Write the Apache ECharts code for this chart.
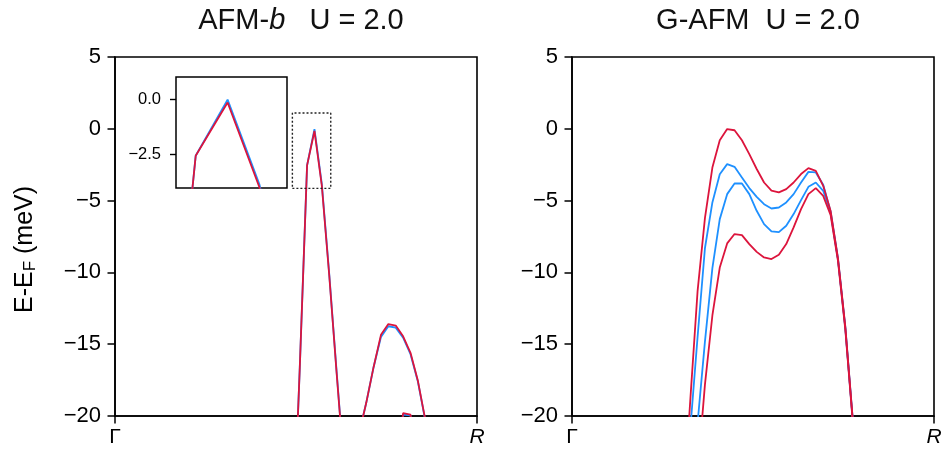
<!DOCTYPE html>
<html><head><meta charset="utf-8">
<script src="https://cdn.jsdelivr.net/npm/echarts@6/dist/echarts.min.js"></script>
<style>html,body{margin:0;padding:0;background:#fff}#c{width:945px;height:454px}</style>
</head><body><div id="c"></div>
<script>
// k-path positions (Γ = 0, R = 1), sample points 15..42 of 50
const kPoints = [0.3061,0.3265,0.3469,0.3673,0.3878,0.4082,0.4286,0.4490,0.4694,0.4898,
                 0.5102,0.5306,0.5510,0.5714,0.5918,0.6122,0.6327,0.6531,0.6735,0.6939,
                 0.7143,0.7347,0.7551,0.7755,0.7959,0.8163,0.8367,0.8571];
const yTickValues = [5,0,-5,-10,-15,-20];
const xTickValues = [0,1];
const xTickLabels = ['Γ','R'];
const insetTickValues = [0,-2.5];
const titles = ['AFM-b', 'G-AFM'];
const uLabel = 'U = 2.0';

// AFM-b panel (meV)
const afmBlueBand1 = [null,null,null,null,null,null,null,null,null,-30,
                      -16.8,-2.55,-0.02,-3.85,-10.1,-16.9,-23.5,null,-21.3,-19.1,
                      -16.6,-14.5,-13.75,-13.85,-14.55,-15.7,-17.6,-20.3];
const afmRedBand1  = [null,null,null,null,null,null,null,null,null,-30,
                      -16.8,-2.55,-0.15,-3.98,-10.2,-17.0,-23.6,null,-21.3,-19.1,
                      -16.6,-14.35,-13.6,-13.7,-14.45,-15.6,-17.55,-20.25];
const afmBlueBand2 = [null,null,null,null,null,null,null,null,null,null,
                      null,null,null,null,null,null,null,null,null,null,
                      null,null,null,-24,-19.9,-19.95,-24,null];
const afmRedBand2  = [null,null,null,null,null,null,null,null,null,null,
                      null,null,null,null,null,null,null,null,null,null,
                      null,null,null,-24,-19.8,-19.9,-24,null];

// G-AFM panel (meV)
const gRedUpper  = [-27,-19,-11.3,-6.2,-2.7,-0.8,-0.02,-0.1,-0.8,-1.76,
                    -2.8,-3.74,-4.3,-4.43,-4.2,-3.74,-3.15,-2.74,-2.93,-3.97,
                    -5.7,-9.0,-13.8,-20.2,-28,null,null,null];
const gBlueUpper = [null,-21,-14.5,-8.3,-5.13,-3.16,-2.46,-2.65,-3.39,-4.13,
                    -4.74,-5.25,-5.55,-5.48,-5.13,-4.55,-3.74,-3.0,-3.04,-3.9,
                    -5.75,-9.05,-13.85,-20.25,-28,null,null,null];
const gBlueLower = [null,null,-20.5,-14.8,-9.7,-6.29,-4.55,-3.81,-3.81,-4.55,
                    -5.71,-6.64,-7.15,-7.2,-6.75,-5.94,-4.97,-4.04,-3.74,-4.32,
                    -5.85,-9.1,-13.9,-20.3,-28,null,null,null];
const gRedLower  = [null,null,-24,-17.8,-13.0,-9.66,-7.98,-7.33,-7.4,-8.03,
                    -8.57,-8.96,-9.07,-8.77,-8.03,-6.87,-5.59,-4.55,-4.13,-4.67,
                    -6.0,-9.2,-14.0,-20.4,-28,null,null,null];

// inset window & dotted marker box
const insetKRange = [0.518, 0.589];
const insetERange = [-4, 1];
const boxKRange = [0.490, 0.596];
const boxERange = [-4.15, 1.1];

const RED = '#DC143C', BLUE = '#1E90FF';
const FONT = 'Liberation Sans, Arial, Helvetica, sans-serif';
const minus = v => String(v).replace('-', '\u2212');
const pairs = vals => kPoints.map((k, i) => [k, vals[i]]);

const chart = echarts.init(document.getElementById('c'), null, {renderer: 'canvas'});

const mainGrids = [
  {left: 115, top: 57, width: 362, height: 359},
  {left: 572, top: 57, width: 362, height: 359}
];
const grids = mainGrids.map(g => Object.assign({show: true, borderColor: '#000', borderWidth: 1.6, backgroundColor: 'transparent'}, g));
grids.push({left: 176, top: 77, width: 111, height: 111, show: true, borderColor: '#000', borderWidth: 1.5, backgroundColor: '#fff'});

const xAxes = [0, 1].map(gi => ({
  type: 'value', gridIndex: gi, min: 0, max: 1, interval: 1,
  axisLine: {show: true, onZero: false, lineStyle: {color: '#000', width: 1.6}},
  axisTick: {show: true, inside: false, length: 7.5, customValues: xTickValues, lineStyle: {color: '#000', width: 1.5}},
  axisLabel: {show: true, customValues: xTickValues, showMinLabel: true, showMaxLabel: true, margin: 11,
    fontFamily: FONT, fontSize: 21, color: '#000',
    formatter: v => {
      const lab = xTickLabels[xTickValues.indexOf(v)];
      return lab === 'R' ? '{it|R}' : lab;
    },
    rich: {it: {fontStyle: 'italic', fontFamily: FONT, fontSize: 21, color: '#000'}}
  },
  splitLine: {show: false}
}));
xAxes.push({
  type: 'value', gridIndex: 2, min: insetKRange[0], max: insetKRange[1],
  axisLine: {show: false}, axisTick: {show: false}, axisLabel: {show: false}, splitLine: {show: false}
});

const yAxes = [0, 1].map(gi => ({
  type: 'value', gridIndex: gi, min: -20, max: 5, interval: 5,
  axisLine: {show: true, onZero: false, lineStyle: {color: '#000', width: 1.6}},
  axisTick: {show: true, inside: false, length: 7.5, customValues: yTickValues, lineStyle: {color: '#000', width: 1.5}},
  axisLabel: {show: true, customValues: yTickValues, margin: 14, fontFamily: FONT, fontSize: 22, color: '#000', formatter: v => minus(v)},
  splitLine: {show: false},
  name: gi === 0 ? '{a|E-E}{s|F}{a| (meV)}' : '',
  nameLocation: 'middle', nameGap: 76, nameRotate: 90,
  nameTextStyle: {padding: [0, 26, 0, 0], rich: {
    a: {fontFamily: FONT, fontSize: 25, color: '#000'},
    s: {fontFamily: FONT, fontSize: 17, color: '#000', padding: [11, 0, 0, 0]}
  }}
}));
yAxes.push({
  type: 'value', gridIndex: 2, min: insetERange[0], max: insetERange[1],
  axisLine: {show: false},
  axisTick: {show: true, inside: false, length: 6, customValues: insetTickValues, lineStyle: {color: '#000', width: 1.4}},
  axisLabel: {show: true, customValues: insetTickValues, margin: 15, fontFamily: FONT, fontSize: 16.5, color: '#000',
    formatter: v => minus(Number(v).toFixed(1))},
  splitLine: {show: false}
});

function line(data, color, xi, yi, z) {
  return {type: 'line', xAxisIndex: xi, yAxisIndex: yi, data: pairs(data), symbol: 'none',
    showSymbol: false, clip: true, connectNulls: false, z: z || 2,
    lineStyle: {color: color, width: 1.8}, itemStyle: {color: color}, emphasis: {disabled: true}, silent: true};
}

const boxData = [
  [boxKRange[0], boxERange[0]], [boxKRange[1], boxERange[0]],
  [boxKRange[1], boxERange[1]], [boxKRange[0], boxERange[1]],
  [boxKRange[0], boxERange[0]]
];

const series = [
  line(afmBlueBand1, BLUE, 0, 0, 2),
  line(afmRedBand1, RED, 0, 0, 3),
  line(afmBlueBand2, BLUE, 0, 0, 2),
  line(afmRedBand2, RED, 0, 0, 3),
  {type: 'line', xAxisIndex: 0, yAxisIndex: 0, data: boxData, symbol: 'none', silent: true, z: 4,
   lineStyle: {color: '#222', width: 1.4, type: [2, 2]}},
  line(afmBlueBand1, BLUE, 2, 2, 6),
  line(afmRedBand1, RED, 2, 2, 7),
  line(gBlueUpper, BLUE, 1, 1, 2),
  line(gBlueLower, BLUE, 1, 1, 2),
  line(gRedUpper, RED, 1, 1, 3),
  line(gRedLower, RED, 1, 1, 3)
];

const titleRich = {
  n: {fontFamily: FONT, fontSize: 29, color: '#111', fontWeight: 'normal'},
  i: {fontFamily: FONT, fontSize: 29, color: '#111', fontStyle: 'italic', fontWeight: 'normal'}
};
const title = [
  {text: '{n|AFM-}{i|b}{n|   ' + uLabel + '}', left: 296, top: 1, textAlign: 'center', textStyle: {rich: titleRich}},
  {text: '{n|' + titles[1] + '  ' + uLabel + '}', left: 753, top: 1, textAlign: 'center', textStyle: {rich: titleRich}}
];

chart.setOption({
  animation: false,
  backgroundColor: '#fff',
  title: title,
  grid: grids,
  xAxis: xAxes,
  yAxis: yAxes,
  series: series
});
</script></body></html>
